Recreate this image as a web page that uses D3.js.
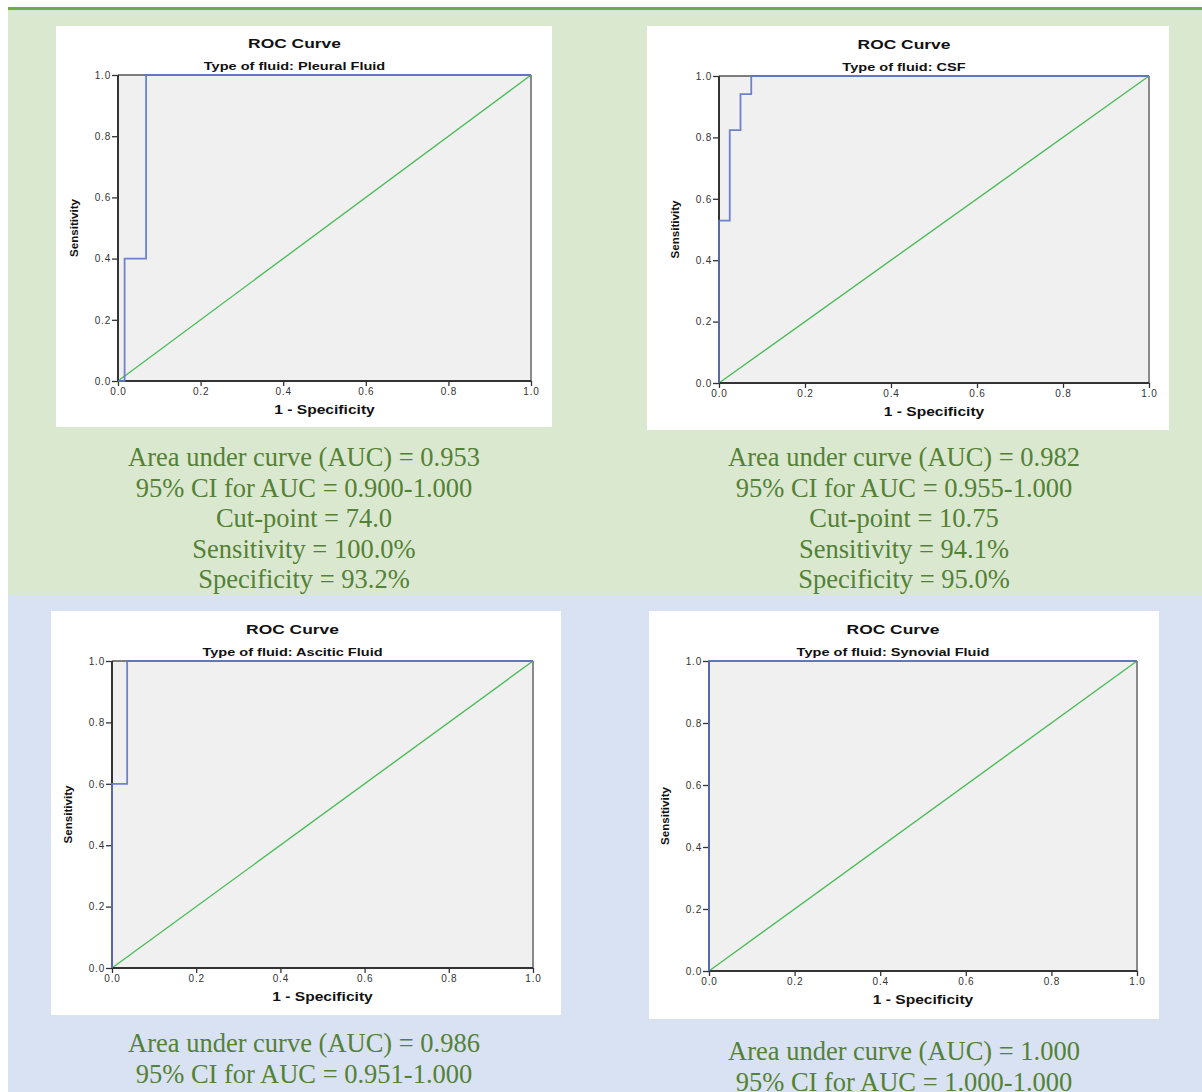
<!DOCTYPE html>
<html>
<head>
<meta charset="utf-8">
<script src="https://cdn.jsdelivr.net/npm/d3@7"></script>
<style>
  body { margin: 0; background: #fff; }
  svg { display: block; }
</style>
</head>
<body>
<svg id="page" width="1202" height="1092"></svg>
<script>
// values
const fluids = ['Pleural Fluid', 'CSF', 'Ascitic Fluid', 'Synovial Fluid']
const tickValues = [0, 0.2, 0.4, 0.6, 0.8, 1.0]

// ROC steps: 1 - specificity and sensitivity
const pleuralFpr  = [0, 0.016, 0.016, 0.068, 0.068, 1]
const pleuralTpr  = [0, 0,     0.4,   0.4,   1,     1]
const csfFpr      = [0, 0,     0.025, 0.025, 0.05,  0.05,  0.075, 0.075, 1]
const csfTpr      = [0, 0.529, 0.529, 0.824, 0.824, 0.941, 0.941, 1,     1]
const asciticFpr  = [0, 0,   0.036, 0.036, 1]
const asciticTpr  = [0, 0.6, 0.6,   1,     1]
const synovialFpr = [0, 0, 1]
const synovialTpr = [0, 1, 1]

const aucValues  = ['0.953', '0.982', '0.986', '1.000']
const ciValues   = ['0.900-1.000', '0.955-1.000', '0.951-1.000', '1.000-1.000']
const cutPoints  = ['74.0', '10.75']
const sensValues = ['100.0%', '94.1%']
const specValues = ['93.2%', '95.0%']

const curves = [
  [pleuralFpr, pleuralTpr],
  [csfFpr, csfTpr],
  [asciticFpr, asciticTpr],
  [synovialFpr, synovialTpr]
]

// page layout (white chart box, plot area, text block)
const panels = [
  { box: [56, 26, 552, 427],    plot: [118, 75, 531, 381],  textX: 304, textY: 466 },
  { box: [647, 26, 1169, 430],  plot: [719, 76, 1149, 383], textX: 904, textY: 466 },
  { box: [51, 611, 561, 1015],  plot: [112, 661, 533, 968], textX: 304, textY: 1052 },
  { box: [649, 611, 1159, 1019], plot: [709, 661, 1137, 971], textX: 904, textY: 1060 }
]

const sx = 1.3  // the SPSS pictures are stretched sideways
const sans = "'Liberation Sans', Arial, sans-serif"
const serif = "'Liberation Serif', 'Times New Roman', serif"

const svg = d3.select('#page')

// backgrounds
svg.append('rect').attr('x', 8).attr('y', 10).attr('width', 1194).attr('height', 585).attr('fill', '#dbe8d0')
svg.append('rect').attr('x', 8).attr('y', 595).attr('width', 1194).attr('height', 497).attr('fill', '#d9e2f2')
svg.append('rect').attr('x', 8).attr('y', 7).attr('width', 1194).attr('height', 3).attr('fill', '#70ad47')

function stretchedText(g, x, y, txt, size, weight) {
  return g.append('text')
    .attr('transform', `translate(${x},${y}) scale(${sx},1)`)
    .attr('text-anchor', 'middle')
    .style('font-family', sans)
    .style('font-size', size + 'px')
    .style('font-weight', weight)
    .style('fill', '#111')
    .text(txt)
}

function buildPanel(i) {
  const p = panels[i]
  const [left, top, right, bottom] = p.plot
  const g = svg.append('g')

  g.append('rect')
    .attr('x', p.box[0]).attr('y', p.box[1])
    .attr('width', p.box[2] - p.box[0]).attr('height', p.box[3] - p.box[1])
    .attr('fill', '#fff')

  const x = d3.scaleLinear().domain([0, 1]).range([left, right])
  const y = d3.scaleLinear().domain([0, 1]).range([bottom, top])

  g.append('rect')
    .attr('x', x(0)).attr('y', y(1))
    .attr('width', x(1) - x(0)).attr('height', y(0) - y(1))
    .attr('fill', '#f0f0f0')

  // frame
  g.append('line').attr('x1', x(0)).attr('x2', x(1)).attr('y1', y(1)).attr('y2', y(1))
    .attr('stroke', '#555').attr('stroke-width', 1.5)
  g.append('line').attr('x1', x(1)).attr('x2', x(1)).attr('y1', y(0)).attr('y2', y(1))
    .attr('stroke', '#8a8a8a').attr('stroke-width', 2)

  // reference diagonal
  g.append('line')
    .attr('x1', x(0)).attr('y1', y(0)).attr('x2', x(1)).attr('y2', y(1))
    .attr('stroke', '#4dbd5a').attr('stroke-width', 1.4)

  const axisStyle = sel => {
    sel.select('.domain').remove()
    sel.selectAll('.tick line').attr('stroke', '#333').attr('stroke-width', 1.3)
    sel.selectAll('text')
      .style('font-family', sans)
      .style('font-size', '10px')
      .style('letter-spacing', '0.8px')
      .style('fill', '#333')
  }

  g.append('g')
    .attr('transform', `translate(${left},0)`)
    .call(d3.axisLeft(y).tickValues(tickValues).tickFormat(d3.format('.1f')).tickSize(6).tickPadding(1))
    .call(axisStyle)

  g.append('g')
    .attr('transform', `translate(0,${bottom})`)
    .call(d3.axisBottom(x).tickValues(tickValues).tickFormat(d3.format('.1f')).tickSize(5).tickPadding(2))
    .call(axisStyle)

  // left and bottom axis lines
  g.append('line').attr('x1', x(0)).attr('x2', x(0)).attr('y1', y(0)).attr('y2', y(1))
    .attr('stroke', '#333').attr('stroke-width', 2)
  g.append('line').attr('x1', x(0)).attr('x2', x(1)).attr('y1', y(0)).attr('y2', y(0))
    .attr('stroke', '#333').attr('stroke-width', 2)

  // ROC curve
  const [fpr, tpr] = curves[i]
  const line = d3.line().x(k => x(fpr[k])).y(k => y(tpr[k]))
  g.append('path')
    .attr('d', line(d3.range(fpr.length)))
    .attr('fill', 'none')
    .attr('stroke', '#5f74c8')
    .attr('stroke-width', 1.8)
    .attr('opacity', 0.9)

  // titles
  const cx = (left + right) / 2
  stretchedText(g, cx - 30, top - 27, 'ROC Curve', 13.4, 'bold')
  stretchedText(g, cx - 30, top - 5, 'Type of fluid: ' + fluids[i], 11.2, 'bold')
  stretchedText(g, cx, bottom + 33, '1 - Specificity', 12, 'bold')

  g.append('text')
    .attr('transform', `translate(${left - 40},${(top + bottom) / 2}) rotate(-90)`)
    .attr('text-anchor', 'middle')
    .style('font-family', sans)
    .style('font-size', '11.6px')
    .style('font-weight', 'bold')
    .style('fill', '#111')
    .text('Sensitivity')

  // stats below the chart
  const lines = [
    'Area under curve (AUC) = ' + aucValues[i],
    '95% CI for AUC = ' + ciValues[i]
  ]
  if (cutPoints[i]) {
    lines.push('Cut-point = ' + cutPoints[i])
    lines.push('Sensitivity = ' + sensValues[i])
    lines.push('Specificity = ' + specValues[i])
  }
  svg.selectAll(null)
    .data(lines)
    .join('text')
    .attr('x', p.textX)
    .attr('y', (d, k) => p.textY + k * 30.6)
    .attr('text-anchor', 'middle')
    .style('font-family', serif)
    .style('font-size', '26.5px')
    .style('fill', '#538135')
    .text(d => d)
}

panels.forEach((p, i) => buildPanel(i))
</script>
</body>
</html>
